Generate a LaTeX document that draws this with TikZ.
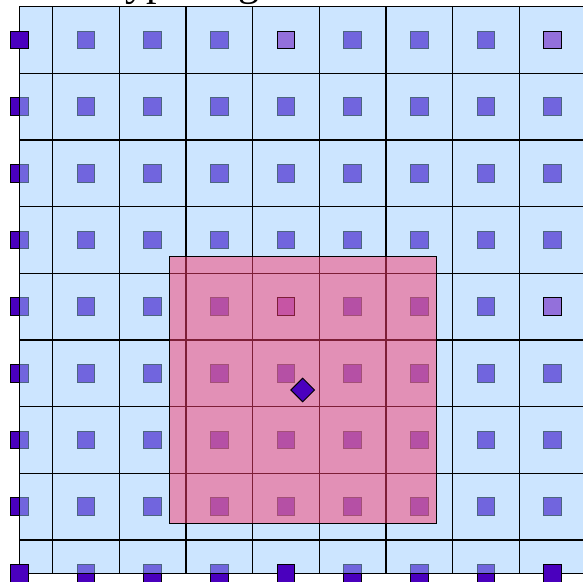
\documentclass[tikz,border=0pt]{standalone}
\usepackage{fontspec}
\setmainfont{Liberation Serif}
\usetikzlibrary{shapes.geometric}
\definecolor{nodepurple}{RGB}{74,0,190}
\definecolor{cellblue}{RGB}{153,203,255}
\definecolor{coarsepurple}{RGB}{147,112,219}
\definecolor{stencilpink}{RGB}{250,60,110}
\tikzstyle{gridnode} = [
    rectangle,
    minimum size=0.265cm,
    inner sep=0pt,
    fill=nodepurple,
    draw=black
]
\tikzstyle{coarsenode} = [gridnode, fill=coarsepurple]
\tikzstyle{particle} = [
    diamond,
    minimum size=0.36cm,
    inner sep=0pt,
    fill=nodepurple,
    draw=black
]
\tikzstyle{gridline} = [black, line width=0.6pt]
\begin{document}
\begin{tikzpicture}
\useasboundingbox (-0.29,-0.115) rectangle (8.455,8.6);

\node (title) at (1.24,8.665) [anchor=base west, inner sep=0pt] {\fontsize{18}{22}\selectfont Typical grid};

% all grid nodes
\foreach \i in {0,...,8}
  \foreach \j in {0,...,8}
    \node (n-\i-\j) [gridnode] at (\i,\j) {};

% cells
\fill [cellblue, fill opacity=0.5] (0,0) rectangle (8.5,8.5);
\foreach \k in {0.5,1.5,...,7.5} {
  \draw [gridline] (\k,0) -- (\k,8.5);
  \draw [gridline] (0,\k) -- (8.5,\k);
}
\draw [gridline] (0,0) rectangle (8.5,8.5);

% nodes on top
\node (d-0-0) [gridnode] at (0,0) {};
\node (d-4-0) [gridnode] at (4,0) {};
\node (d-8-0) [gridnode] at (8,0) {};
\node (d-0-8) [gridnode] at (0,8) {};
\node (c-4-8) [coarsenode] at (4,8) {};
\node (c-8-8) [coarsenode] at (8,8) {};
\node (c-8-4) [coarsenode] at (8,4) {};
\node (c-4-4) [coarsenode] at (4,4) {};

% stencil
\filldraw [fill=stencilpink, fill opacity=0.5, draw=black] (2.25,0.75) rectangle (6.25,4.75);

\node (p) [particle] at (4.25,2.75) {};

\end{tikzpicture}
\end{document}
